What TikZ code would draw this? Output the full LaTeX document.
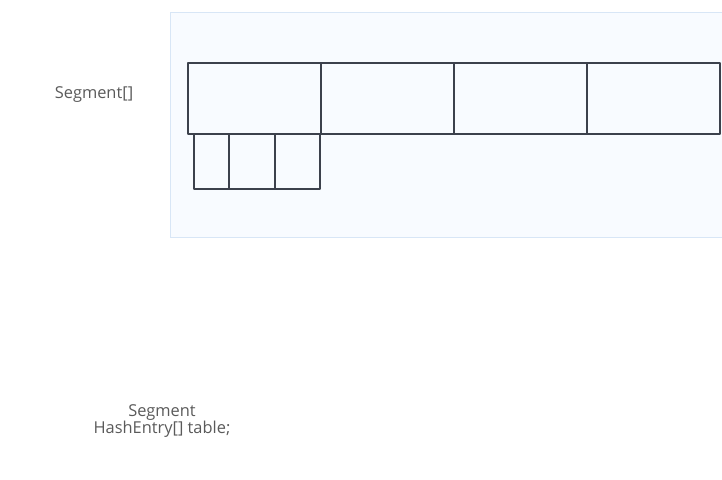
\documentclass[tikz,border=0pt]{standalone}
\usepackage{fontspec}
\setmainfont{Open Sans}
\usetikzlibrary{calc}
\definecolor{panelfill}{HTML}{F8FBFF}
\definecolor{panelline}{HTML}{D8E6F6}
\definecolor{cellline}{HTML}{3C414C}
\definecolor{labelgray}{HTML}{5A5A5A}
\tikzset{
  cell/.style={draw=cellline,line width=2pt,line join=round},
  lbl/.style={text=labelgray,font=\fontsize{16.4}{17}\selectfont,align=center,inner sep=0pt}
}
\begin{document}
\begin{tikzpicture}[x=1pt,y=-1pt]
    \useasboundingbox (0,0) rectangle (722,479);
    \fill[panelfill,draw=panelline,line width=1pt] (170,12) rectangle (740,237);

    \coordinate (S) at (188,63);
    \foreach \i in {0,...,3}
      \draw[cell] ($(S)+(133*\i,0)$) rectangle ++(133,71);

    \coordinate (T) at (194,134);
    \draw[cell] (T) rectangle (229,189);
    \draw[cell] (229,134) rectangle (275,189);
    \draw[cell] (275,134) rectangle (320,189);

    \node[lbl] (segarr) at (94,95) {Segment[]};
    \node[lbl] (seg) at (162,421) {Segment\\HashEntry[] table;};
\end{tikzpicture}
\end{document}
